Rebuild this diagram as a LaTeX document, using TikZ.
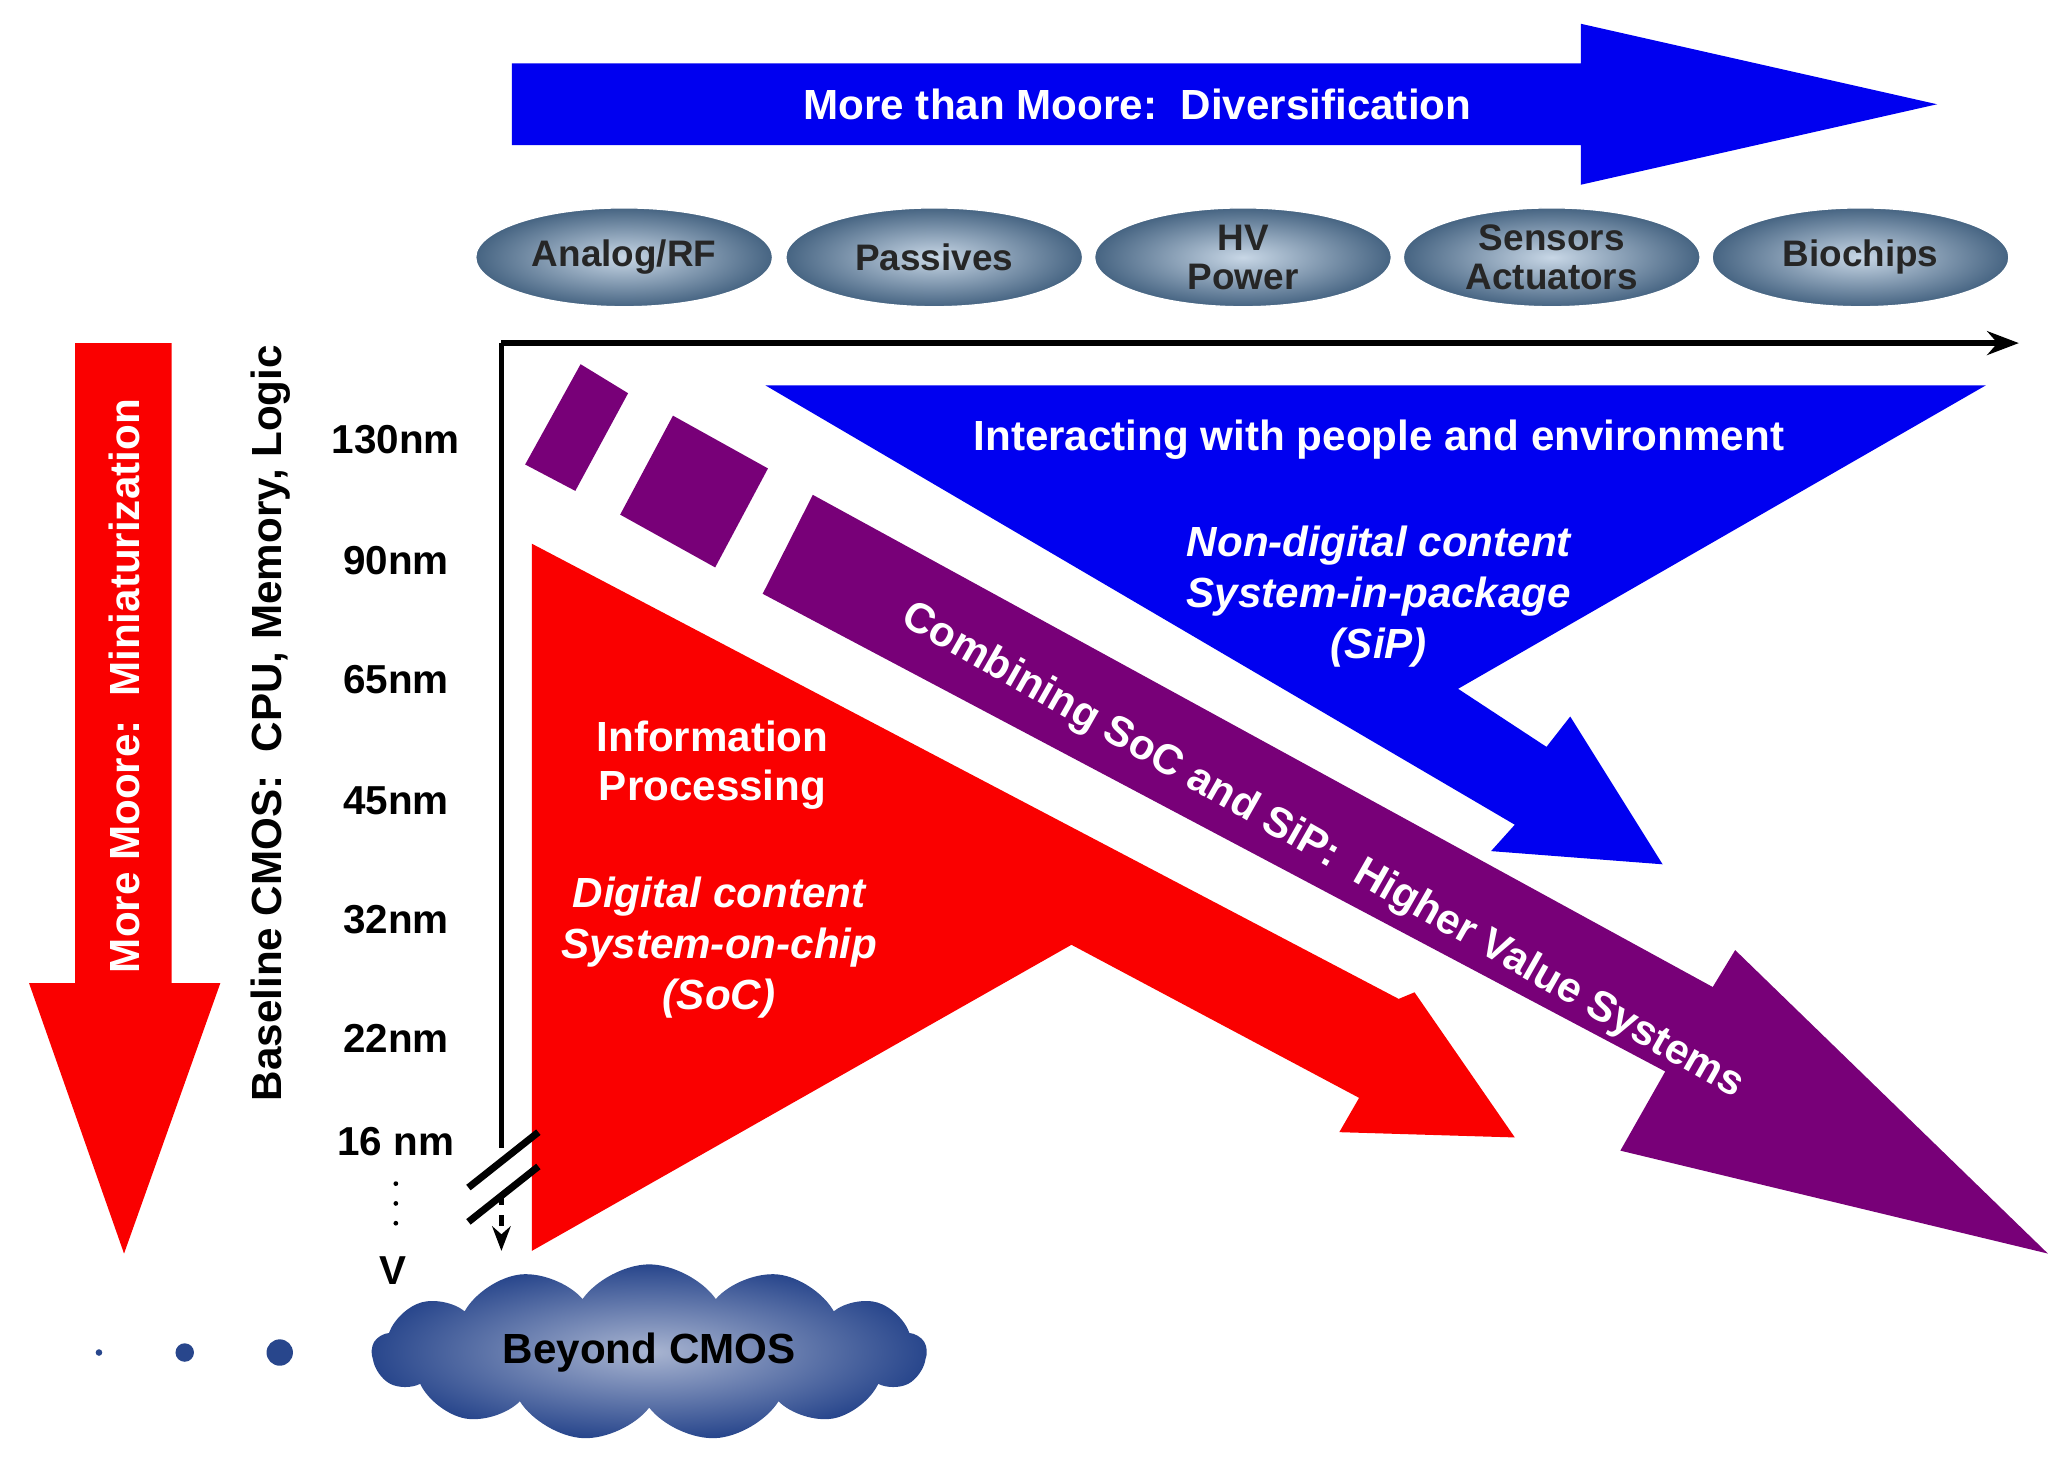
\documentclass[tikz,border=0pt]{standalone}
\usepackage{fontspec}
\setmainfont{Liberation Sans}
\usetikzlibrary{shapes.geometric,shapes.symbols,arrows.meta}
\definecolor{mmblue}{RGB}{0,0,240}
\definecolor{mmred}{RGB}{250,0,0}
\definecolor{mmpurple}{RGB}{120,0,120}
\definecolor{pill}{RGB}{70,100,130}
\definecolor{pilllight}{RGB}{200,215,230}
\definecolor{cloudblue}{RGB}{40,70,140}
\tikzset{
  white_txt/.style={text=white,font=\bfseries\fontsize{12}{14}\selectfont,align=center},
  ital_txt/.style={text=white,font=\bfseries\itshape\fontsize{12}{14.5}\selectfont,align=center},
  pill_node/.style={ellipse,minimum width=225\unit,minimum height=75\unit,inner sep=0pt,
    inner color=pilllight,outer color=pill,draw=white,
    font=\bfseries\fontsize{10.5}{11}\selectfont,align=center,text=black!85},
  nm_label/.style={font=\bfseries\fontsize{11.5}{13}\selectfont}
}
\newlength{\unit}
\setlength{\unit}{0.013195cm}
\begin{document}
\begin{tikzpicture}[x=0.013195cm,y=-0.013195cm]
\useasboundingbox (0,0) rectangle (1568,1122);
% top arrow
\fill[mmblue] (388,48) -- (1198,48) -- (1198,18) -- (1468,79) -- (1198,140) -- (1198,110) -- (388,110) -- cycle;
\node[white_txt] (diversification) at (862,79) {More than Moore:\ \ Diversification};
% technologies
\foreach \x/\name/\txt in {473/analog/{Analog/RF},708/passives/Passives,942/hvpower/HV\\Power,1176/sensors/Sensors\\Actuators,1410/biochips/Biochips}
  \node[pill_node] (\name) at (\x,195) {\txt};
% left arrow
\fill[mmred] (57,260) -- (130,260) -- (130,745) -- (167,745) -- (94,950) -- (22,745) -- (57,745) -- cycle;
\node[white_txt,rotate=90] (miniaturization) at (94,520) {More Moore:\ \ Miniaturization};
\node[nm_label,rotate=90,font=\bfseries\fontsize{12}{14}\selectfont] (baseline) at (205,548) {Baseline CMOS:\ \ CPU, Memory, Logic};
\foreach \y/\txt in {333/130nm,425/90nm,515/65nm,607/45nm,697/32nm,787/22nm,865/16 nm}
  \node[nm_label] (n\y) at (300,\y) {\txt};
\node[nm_label] (vmark) at (298,963) {V};
\foreach \y in {897,912,927} \fill (300,\y) circle (1.8);
% shapes
\fill[mmblue] (580,292) -- (1505,292) -- (1105,522) -- (1172,566) -- (1190,543) -- (1260,655) -- (1130,645) -- (1148,625) -- cycle;
\fill[mmred] (403,412) -- (1060,757) -- (1072,752) -- (1148,862) -- (1015,858) -- (1030,832) -- (812,716) -- (403,948) -- cycle;
\fill[mmpurple] (398,352) -- (440,276) -- (476,298) -- (436,372) -- cycle;
\fill[mmpurple] (470,390) -- (510,315) -- (582,355) -- (542,430) -- cycle;
\fill[mmpurple] (578,450) -- (616,375) -- (1298,748) -- (1315,720) -- (1552,950) -- (1228,872) -- (1262,812) -- cycle;
\node[white_txt] (interacting) at (1045,333) {Interacting with people and environment};
\node[ital_txt] (sip) at (1045,452) {Non-digital content\\System-in-package\\(SiP)};
\node[white_txt] (information) at (540,580) {Information\\Processing};
\node[ital_txt] (soc) at (545,718) {Digital content\\System-on-chip\\(SoC)};
\node[white_txt,rotate=-29.6] (combining) at (1002,645) {Combining SoC and SiP:\ \ Higher Value Systems};
% axes
\coordinate (origin) at (380,260);
\coordinate (xend) at (1530,260);
\coordinate (ybreak) at (380,870);
\coordinate (yend) at (380,948);
\draw[line width=1.6pt,-{Stealth[length=9pt]}] (origin) -- (xend);
\draw[line width=1.6pt] (origin) -- (ybreak);
\draw[line width=1.2pt,dashed,-{Stealth[length=7pt]}] (380,905) -- (yend);
\draw[line width=2pt] (355,900) -- (408,858);
\draw[line width=2pt] (355,926) -- (408,884);
% beyond
\node[cloud,cloud puffs=13,cloud puff arc=110,aspect=3.6,minimum width=420\unit,minimum height=125\unit,
  inner color=cloudblue!40,outer color=cloudblue,draw=none,font=\bfseries\fontsize{12}{14}\selectfont] (beyond) at (492,1025) {Beyond CMOS};
\fill[cloudblue] (75,1025) circle (2.5);
\fill[cloudblue] (140,1025) circle (7);
\fill[cloudblue] (212,1025) circle (10);
\end{tikzpicture}
\end{document}
